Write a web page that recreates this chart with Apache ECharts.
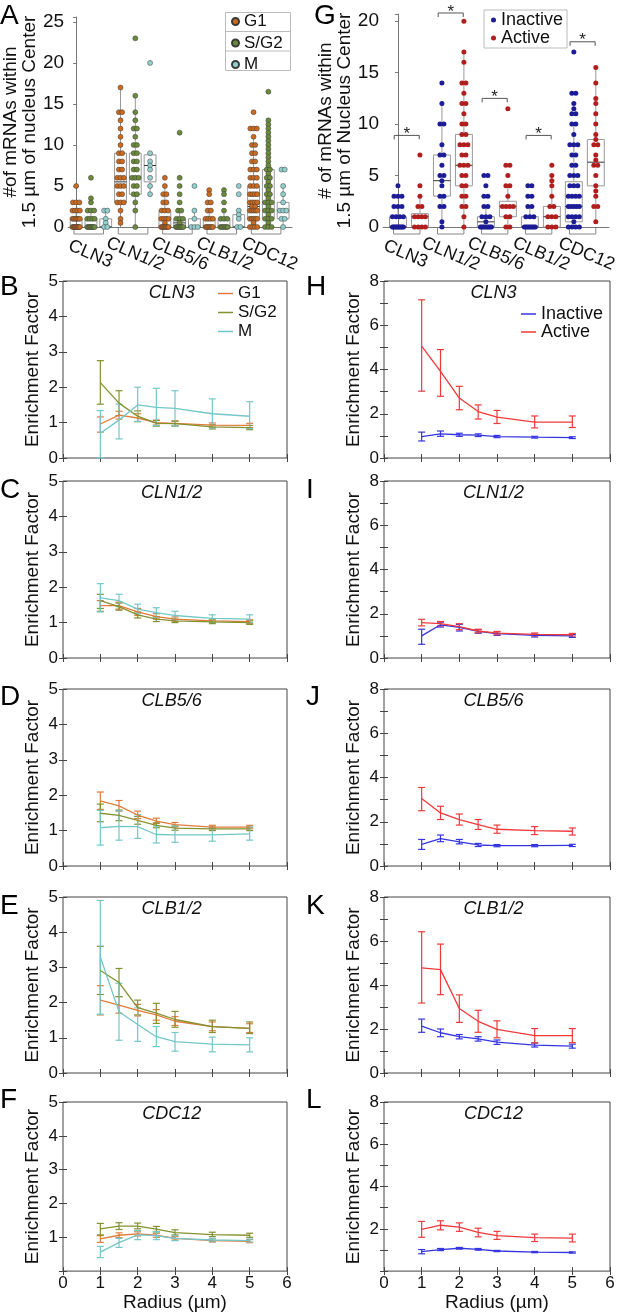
<!DOCTYPE html>
<html><head><meta charset="utf-8">
<script src="https://cdn.jsdelivr.net/npm/echarts@6/dist/echarts.min.js"></script>
<style>html,body{margin:0;padding:0;background:#fff}#c{width:633px;height:1313px}</style>
</head><body><div id="c"></div>
<script>
// ---------------- DATA ----------------
const genes = ['CLN3','CLN1/2','CLB5/6','CLB1/2','CDC12'];
const phases = ['G1','S/G2','M'];
const states = ['Inactive','Active'];
const radius = [1,1.5,2,2.5,3,4,5];

// Panel A dots (mRNA counts) per gene / phase
const a_CLN3_G1   = [5,3,3,3,2,2,2,2,1,1,1,1,1,1,0,0,0,0,0,0,0,0,0,0];
const a_CLN3_SG2  = [6,3.5,3,2,2,2,1,1,1,1,0,0,0,0,0,0,0,0];
const a_CLN3_M    = [2,2,1,0.5,0,0];
const a_CLN12_G1  = [17,14,14,13,12,11,10,9,9,8,8,7,7,6,6,6,5,5,5,4,4,3,3,3,2,1,0.5];
const a_CLN12_SG2 = [23,16,14,13,12,12,11,10,10,9,9,8,8,7,7,6,6,6,5,5,4,4,3,2,0];
const a_CLN12_M   = [20,9,8,7.5,7,6,5,4];
const a_CLB56_G1  = [6,5,4,4,3,3,2,2,2,1,1,1,1,0.5,0,0,0,0,0,0,0,0];
const a_CLB56_SG2 = [11.5,6,5,4,3,2,2,1,1,1,0.5,0,0,0,0,0,0,0];
const a_CLB56_M   = [5,2,1,0,0,0];
const a_CLB12_G1  = [4.5,4,3,3,2,2,1,1,1,1,0,0,0,0,0,0,0];
const a_CLB12_SG2 = [4.5,4,3,2,1,1,1,0,0,0,0,0,0];
const a_CLB12_M   = [5,4,2,1.5,1,0,0];
const a_CDC12_G1  = [14,12,12,12,11,10,10,9,9,8,8,7,7,7,6,6,6,5,5,5,4,4,4,4,3,3,3,3,2.5,2.5,2,2,2,2,2,1,1,1,1,1,0.5,0,0,0,0];
const a_CDC12_SG2 = [16.5,13,12.5,12,11.5,11,10.5,10,9.5,9,8.5,8,7.5,7,7,6.5,6,6,5.5,5,5,4.5,4,4,3.5,3,3,3,2.5,2,2,2,1.5,1,1,1,0.5,0,0,0];
const a_CDC12_M   = [7,7,5,4,3,2,2,2,1,1,0];
// Panel A box stats [min, q1, median, q3, max] in gene-major, phase-minor order
const boxA = [[0,0,0,1,2],[0,0,0,1,2],[0,0,0,1,2],
              [0,3,5.5,9,17],[0,4,6,9,16],[4,5.5,7.5,8.8,9],
              [0,0,1,2,5],[0,0,0.5,1,2],[0,0,0,1,2],
              [0,0,0,1,2],[0,0,0,1,2],[0,0,0,1.5,2],
              [0,1,2.5,5,11],[0,1,3,7,13],[0,1,2,3,5]];

// Panel G dots
const g_CLN3_In   = [4,3,3,3,2,2,2,1,1,1,1,0,0,0,0,0,0,0,0,0,0];
const g_CLN3_Act  = [7,4,3,2,2,1,1,1,1,0,0,0,0];
const g_CLN12_In  = [14,12,10,10,8,7,7,6,5,5,4.5,4,3,3,2,2,0.5,0];
const g_CLN12_Act = [20,17,16,14,14,13,12,12,11,10,10,9,9,8,8,8,7,7,6,6,6,5,5,4,4,3,3,2,2,1,0];
const g_CLB56_In  = [5,5,4,3,3,2,2,1,1,1,0.5,0,0,0,0,0,0,0,0];
const g_CLB56_Act = [11.5,6,6,5,4,4,3,2,2,2,2,1,1,0,0];
const g_CLB12_In  = [4,4,3,3,2,2,1,1,1,0,0,0,0,0,0,0,0];
const g_CLB12_Act = [6,5,4.5,4,3,2,2,1,1,1,0,0,0];
const g_CDC12_In  = [17,13,13,12,11.5,11,11,10,10,9,8,8,8,7,7,6,6,5,5,5,4,4,4,3,3,3,3,2,2,2,2,2,1,1,1,1,0.5,0,0,0,0];
const g_CDC12_Act = [15.5,14,12.5,12,11,10,9,8.5,8,8,7,6.5,6,6,5,4,3.5,3,2,2,0.5];
const boxG = [[0,0,0,1,2],[0,0,1,1.3,3],
              [0,3,4.5,7,12],[0,4,6,9,17],
              [0,0,0.5,1,2],[0,1,2,2.5,4],
              [0,0,0,1,2],[0,0,1,2,5],
              [0,0.5,2,4.4,10],[0.5,4,6.3,8.5,15.5]];
const sigLevels = [8.9,20.8,12.5,8.9,18];

// Enrichment factor: [mean, lower, upper] at each radius
const B_G1  = [[0.96,0.73,1.16],[1.21,1.1,1.32],[1.13,1.03,1.25],[1.0,0.93,1.07],[0.98,0.92,1.05],[0.93,0.87,0.99],[0.92,0.86,0.98]];
const B_SG2 = [[2.13,1.52,2.75],[1.55,1.2,1.9],[1.18,1.03,1.33],[0.98,0.9,1.06],[0.97,0.9,1.04],[0.88,0.82,0.94],[0.86,0.8,0.92]];
const B_M   = [[0.7,0,1.34],[1.07,0.54,1.52],[1.5,1.03,2.0],[1.43,0.91,1.97],[1.4,0.91,1.9],[1.25,0.85,1.67],[1.18,0.83,1.59]];
const C_G1  = [[1.48,1.32,1.62],[1.48,1.38,1.58],[1.3,1.2,1.4],[1.17,1.1,1.25],[1.1,1.04,1.16],[1.05,1.0,1.1],[1.03,0.98,1.08]];
const C_SG2 = [[1.62,1.4,1.8],[1.45,1.35,1.55],[1.22,1.13,1.3],[1.1,1.03,1.17],[1.05,1.0,1.1],[1.02,0.97,1.07],[1.0,0.95,1.05]];
const C_M   = [[1.7,1.3,2.1],[1.62,1.45,1.8],[1.38,1.25,1.52],[1.28,1.15,1.42],[1.2,1.08,1.32],[1.12,1.02,1.22],[1.1,1.0,1.22]];
const D_G1  = [[1.84,1.6,2.09],[1.7,1.55,1.85],[1.44,1.34,1.55],[1.27,1.2,1.35],[1.17,1.1,1.23],[1.1,1.05,1.15],[1.1,1.05,1.15]];
const D_SG2 = [[1.49,1.25,1.75],[1.43,1.28,1.58],[1.29,1.18,1.4],[1.15,1.08,1.22],[1.07,1.01,1.13],[1.05,1.0,1.1],[1.05,1.0,1.1]];
const D_M   = [[1.08,0.59,1.57],[1.12,0.73,1.56],[1.11,0.78,1.45],[0.89,0.65,1.13],[0.88,0.67,1.13],[0.88,0.7,1.08],[0.91,0.73,1.1]];
const E_G1  = [[2.07,1.65,2.48],[1.93,1.7,2.17],[1.78,1.62,1.95],[1.65,1.5,1.8],[1.47,1.35,1.6],[1.32,1.2,1.45],[1.27,1.15,1.4]];
const E_SG2 = [[2.91,2.23,3.6],[2.57,2.17,2.97],[1.86,1.65,2.07],[1.7,1.41,1.98],[1.52,1.3,1.75],[1.32,1.15,1.5],[1.27,1.12,1.45]];
const E_M   = [[3.3,1.67,4.9],[1.74,0.93,2.55],[1.38,0.9,1.85],[1.03,0.75,1.32],[0.89,0.62,1.15],[0.82,0.6,1.02],[0.8,0.6,1.0]];
const F_G1  = [[0.95,0.85,1.05],[1.06,0.99,1.13],[1.1,1.04,1.16],[1.06,1.0,1.12],[0.97,0.92,1.02],[0.9,0.86,0.95],[0.88,0.84,0.93]];
const F_SG2 = [[1.25,1.07,1.41],[1.33,1.23,1.43],[1.33,1.25,1.42],[1.24,1.16,1.32],[1.14,1.07,1.22],[1.08,1.02,1.15],[1.06,1.0,1.12]];
const F_M   = [[0.56,0.4,0.73],[0.84,0.7,0.97],[1.07,0.93,1.2],[1.05,0.93,1.17],[0.97,0.9,1.05],[0.92,0.87,0.97],[0.9,0.86,0.95]];
const H_In  = [[0.97,0.77,1.17],[1.09,0.98,1.22],[1.05,0.98,1.12],[1.03,0.97,1.09],[0.97,0.92,1.02],[0.94,0.9,0.98],[0.92,0.88,0.96]];
const H_Act = [[5.06,3.02,7.15],[3.92,2.79,4.9],[2.71,2.18,3.24],[2.1,1.76,2.4],[1.85,1.56,2.15],[1.62,1.36,1.9],[1.62,1.38,1.9]];
const I_In  = [[1.0,0.62,1.3],[1.5,1.4,1.62],[1.38,1.22,1.52],[1.2,1.12,1.28],[1.1,1.02,1.18],[1.02,0.95,1.08],[1.0,0.93,1.06]];
const I_Act = [[1.6,1.45,1.75],[1.55,1.45,1.65],[1.42,1.28,1.55],[1.22,1.14,1.3],[1.12,1.05,1.2],[1.07,1.0,1.13],[1.05,0.99,1.11]];
const J_In  = [[0.98,0.75,1.2],[1.24,1.1,1.4],[1.09,1.0,1.2],[0.95,0.88,1.02],[0.92,0.87,0.97],[0.92,0.87,0.97],[0.93,0.88,0.98]];
const J_Act = [[3.05,2.5,3.55],[2.4,2.1,2.7],[2.1,1.85,2.35],[1.87,1.65,2.1],[1.66,1.48,1.85],[1.6,1.42,1.78],[1.57,1.4,1.72]];
const K_In  = [[2.13,1.85,2.45],[1.83,1.65,2.0],[1.65,1.55,1.75],[1.55,1.45,1.65],[1.4,1.3,1.5],[1.27,1.18,1.36],[1.22,1.13,1.31]];
const K_Act = [[4.78,3.18,6.42],[4.7,3.56,5.86],[2.93,2.3,3.55],[2.35,1.85,2.85],[1.98,1.6,2.37],[1.7,1.37,2.02],[1.7,1.38,2.02]];
const L_In  = [[0.92,0.82,1.02],[1.02,0.97,1.07],[1.08,1.04,1.12],[1.03,0.99,1.07],[0.95,0.92,0.98],[0.9,0.87,0.93],[0.88,0.85,0.91]];
const L_Act = [[1.97,1.6,2.35],[2.17,1.95,2.38],[2.08,1.88,2.28],[1.83,1.62,2.03],[1.68,1.5,1.88],[1.58,1.4,1.75],[1.56,1.38,1.75]];

// ---------------- STYLE / LAYOUT ----------------
const FF = '"Liberation Sans", Arial, Helvetica, sans-serif';
const dotColA = {'G1':'#cc6a1e','S/G2':'#6b8a3a','M':'#92d0d0'};
const dotColG = {'Inactive':'#1c1c96','Active':'#b01e1e'};
const lineColL = {'G1':'#e07b39','S/G2':'#83912f','M':'#73c7c9'};
const lineColR = {'Inactive':'#3535e0','Active':'#f03a3a'};

const grid=[], xAxis=[], yAxis=[], series=[], legend=[], graphic=[];

function swarm(values, slot, step, maxSpread){
  const counts={}; values.forEach(v=>counts[v]=(counts[v]||0)+1);
  const seen={};
  return values.map(v=>{
    const n=counts[v]; const k = seen[v] = (seen[v]===undefined?0:seen[v]+1);
    const s = n>1 ? Math.min(step, maxSpread/(n-1)) : 0;
    return [slot + (k-(n-1)/2)*s, v];
  });
}
function boxRender(bw, stroke, med){
  return function(params, api){
    const x=api.value(0);
    const pMin=api.coord([x,api.value(1)]), pQ1=api.coord([x,api.value(2)]), pMd=api.coord([x,api.value(3)]),
          pQ3=api.coord([x,api.value(4)]), pMax=api.coord([x,api.value(5)]);
    const w=api.size([bw,0])[0];
    const st={stroke:stroke, lineWidth:1, fill:null};
    const ch=[];
    if(pMin[1]-pQ1[1]>0.5) ch.push({type:'line',shape:{x1:pMin[0],y1:pMin[1],x2:pQ1[0],y2:pQ1[1]},style:st});
    if(pQ3[1]-pMax[1]>0.5) ch.push({type:'line',shape:{x1:pQ3[0],y1:pQ3[1],x2:pMax[0],y2:pMax[1]},style:st});
    ch.push({type:'rect',shape:{x:pQ1[0]-w/2,y:pQ3[1],width:w,height:Math.max(pQ1[1]-pQ3[1],0.5)},style:{stroke:stroke,lineWidth:1,fill:'rgba(255,255,255,0)'}});
    ch.push({type:'line',shape:{x1:pMd[0]-w/2,y1:pMd[1],x2:pMd[0]+w/2,y2:pMd[1]},style:{stroke:med,lineWidth:1}});
    return {type:'group',children:ch};
  };
}
function errRender(color){
  return function(params, api){
    const x=api.value(0);
    const a=api.coord([x,api.value(2)]), b=api.coord([x,api.value(1)]);
    const hw=3.5, st={stroke:color,lineWidth:1.2};
    return {type:'group',children:[
      {type:'line',shape:{x1:a[0],y1:a[1],x2:b[0],y2:b[1]},style:st},
      {type:'line',shape:{x1:a[0]-hw,y1:a[1],x2:a[0]+hw,y2:a[1]},style:st},
      {type:'line',shape:{x1:b[0]-hw,y1:b[1],x2:b[0]+hw,y2:b[1]},style:st}]};
  };
}
function bracketBelow(hwSlots){
  return function(params, api){
    const c=api.coord([api.value(0),0]); const hw=api.size([hwSlots,0])[0];
    const y=c[1]+7;
    return {type:'polyline',shape:{points:[[c[0]-hw,c[1]+1],[c[0]-hw,y],[c[0]+hw,y],[c[0]+hw,c[1]+1]]},style:{stroke:'#888',fill:null,lineWidth:1}};
  };
}

// ---------- Top panel builder ----------
function topPanel(o){
  const g=grid.length; grid.push({left:o.left,top:o.top,width:o.w,height:o.h});
  const xv=xAxis.length;
  xAxis.push({gridIndex:g,type:'value',min:o.xmin,max:o.xmax,show:false});
  xAxis.push({gridIndex:g,type:'category',data:genes,position:'bottom',boundaryGap:true,
    axisLine:{show:true,lineStyle:{color:'#777',width:1}},axisTick:{show:false},splitLine:{show:false},
    axisLabel:{interval:0,rotate:-23,align:'center',verticalAlign:'middle',margin:27,fontSize:18,color:'#111',fontFamily:FF}});
  const yv=yAxis.length;
  yAxis.push({gridIndex:g,type:'value',min:0,max:o.ymax,interval:5,
    axisLine:{show:true,lineStyle:{color:'#777'}},axisTick:{show:true,length:3,lineStyle:{color:'#777'}},splitLine:{show:false},
    axisLabel:{fontSize:19,color:'#111',fontFamily:FF,margin:4,formatter:v=>(Math.abs(v%5)<1e-9?String(v):'')},
    name:o.yname,nameLocation:'middle',nameGap:25,nameTextStyle:{fontSize:19,lineHeight:19,color:'#111',fontFamily:FF}});
  return {xv,yv};
}

// Panel A
const A = topPanel({left:67,top:17,w:225,h:210,xmin:-0.55,xmax:14.6,ymax:25.6,yname:'#of mRNAs within\n1.5 µm of nucleus Center'});
series.push({type:'custom',xAxisIndex:A.xv,yAxisIndex:A.yv,data:boxA.map((b,i)=>[i].concat(b)),encode:{x:0,y:[1,2,3,4,5]},
  renderItem:boxRender(0.8,'#999','#333'),silent:true,animation:false,z:1});
const aDots=[[a_CLN3_G1,a_CLN3_SG2,a_CLN3_M],[a_CLN12_G1,a_CLN12_SG2,a_CLN12_M],[a_CLB56_G1,a_CLB56_SG2,a_CLB56_M],
             [a_CLB12_G1,a_CLB12_SG2,a_CLB12_M],[a_CDC12_G1,a_CDC12_SG2,a_CDC12_M]];
phases.forEach((ph,pi)=>{
  let data=[]; aDots.forEach((gd,gi)=>{ data=data.concat(swarm(gd[pi],gi*3+pi,0.22,0.5)); });
  series.push({type:'scatter',name:ph,xAxisIndex:A.xv,yAxisIndex:A.yv,data,symbol:'circle',symbolSize:5,
    itemStyle:{color:dotColA[ph],borderColor:'#3a3a3a',borderWidth:0.5,opacity:1},silent:true,animation:false,z:3});
});
series.push({type:'custom',xAxisIndex:A.xv,yAxisIndex:A.yv,data:genes.map((_,i)=>[i*3+0.85,0]),encode:{x:0,y:1},
  renderItem:bracketBelow(1.0),clip:false,silent:true,animation:false,z:2});

// Panel G
const G = topPanel({left:383,top:14,w:226,h:213,xmin:-0.68,xmax:9.6,ymax:20.7,yname:'# of mRNAs within\n1.5 µm of Nucleus Center'});
series.push({type:'custom',xAxisIndex:G.xv,yAxisIndex:G.yv,data:boxG.map((b,i)=>[i].concat(b)),encode:{x:0,y:[1,2,3,4,5]},
  renderItem:boxRender(0.77,'#999','#333'),silent:true,animation:false,z:1});
const gDots=[[g_CLN3_In,g_CLN3_Act],[g_CLN12_In,g_CLN12_Act],[g_CLB56_In,g_CLB56_Act],[g_CLB12_In,g_CLB12_Act],[g_CDC12_In,g_CDC12_Act]];
states.forEach((st,si)=>{
  let data=[]; gDots.forEach((gd,gi)=>{ data=data.concat(swarm(gd[si],gi*2+si,0.18,0.5)); });
  series.push({type:'scatter',name:st,xAxisIndex:G.xv,yAxisIndex:G.yv,data,symbol:'circle',symbolSize:5,
    itemStyle:{color:dotColG[st],opacity:1},silent:true,animation:false,z:3});
});
series.push({type:'custom',xAxisIndex:G.xv,yAxisIndex:G.yv,data:genes.map((_,i)=>[i*2+0.4,0]),encode:{x:0,y:1},
  renderItem:bracketBelow(0.6),clip:false,silent:true,animation:false,z:2});
series.push({type:'custom',xAxisIndex:G.xv,yAxisIndex:G.yv,data:sigLevels.map((v,i)=>[i*2+0.4,v]),encode:{x:0,y:1},
  renderItem:function(params,api){
    const c=api.coord([api.value(0),api.value(1)]); const hw=api.size([0.57,0])[0];
    return {type:'group',children:[
      {type:'polyline',shape:{points:[[c[0]-hw,c[1]+4],[c[0]-hw,c[1]],[c[0]+hw,c[1]],[c[0]+hw,c[1]+4]]},style:{stroke:'#555',fill:null,lineWidth:1}},
      {type:'text',x:c[0],y:c[1]-1,style:{text:'*',font:'17px '+FF,fill:'#222',align:'center',verticalAlign:'middle'}}]};
  },clip:false,silent:true,animation:false,z:2});

// legends top
graphic.push({type:'rect',shape:{x:225.5,y:12.5,width:65,height:58},style:{stroke:'#bbb',fill:null,lineWidth:1}});
graphic.push({type:'line',shape:{x1:225.5,y1:31.5,x2:290.5,y2:31.5},style:{stroke:'#bbb',lineWidth:1}});
graphic.push({type:'line',shape:{x1:225.5,y1:51,x2:290.5,y2:51},style:{stroke:'#bbb',lineWidth:1}});
legend.push({data:phases,orient:'vertical',left:231,top:13,padding:0,itemGap:4.5,itemWidth:7,itemHeight:7,selectedMode:false,
  textStyle:{fontSize:17,lineHeight:15,color:'#111',fontFamily:FF}});
legend.push({data:states,orient:'vertical',left:484,top:10,padding:[1,4,1,7],itemGap:0,itemWidth:5,itemHeight:5,selectedMode:false,
  borderColor:'#bbb',borderWidth:1,textStyle:{fontSize:18,lineHeight:16,color:'#111',fontFamily:FF}});

// ---------- line panels ----------
const tops=[281,481,689,897,1102], heights=[177,177,177,176,176];
const leftPanels=[['B','CLN3',B_G1,B_SG2,B_M],['C','CLN1/2',C_G1,C_SG2,C_M],['D','CLB5/6',D_G1,D_SG2,D_M],['E','CLB1/2',E_G1,E_SG2,E_M],['F','CDC12',F_G1,F_SG2,F_M]];
const rightPanels=[['H','CLN3',H_In,H_Act],['I','CLN1/2',I_In,I_Act],['J','CLB5/6',J_In,J_Act],['K','CLB1/2',K_In,K_Act],['L','CDC12',L_In,L_Act]];

function linePanel(o){
  const g=grid.length;
  grid.push({left:o.left,top:o.top,width:o.w,height:o.h,show:true,borderColor:'#444',borderWidth:1,backgroundColor:'rgba(0,0,0,0)'});
  const tick={show:true,inside:true,length:4,lineStyle:{color:'#444',width:1}};
  const xi=xAxis.length;
  xAxis.push({gridIndex:g,type:'value',min:0,max:6,interval:1,position:'bottom',axisLine:{show:false},axisTick:tick,splitLine:{show:false},
    axisLabel:{show:o.showX,fontSize:17,color:'#111',fontFamily:FF,margin:4},
    name:o.showX?'Radius (µm)':'',nameLocation:'middle',nameGap:19,nameTextStyle:{fontSize:19,color:'#111',fontFamily:FF}});
  xAxis.push({gridIndex:g,type:'value',min:0,max:6,interval:1,position:'top',axisLine:{show:false},axisTick:tick,axisLabel:{show:false},splitLine:{show:false}});
  const yi=yAxis.length;
  yAxis.push({gridIndex:g,type:'value',min:0,max:o.ymax,interval:1,position:'left',axisLine:{show:false},axisTick:tick,splitLine:{show:false},
    axisLabel:{fontSize:17,color:'#111',fontFamily:FF,margin:5,formatter:v=>((v%o.lab===0)&&!(o.showX&&v===0)?String(v):'')},
    name:'Enrichment Factor',nameLocation:'middle',nameGap:21,nameTextStyle:{fontSize:19,color:'#111',fontFamily:FF}});
  yAxis.push({gridIndex:g,type:'value',min:0,max:o.ymax,interval:1,position:'right',axisLine:{show:false},axisTick:tick,axisLabel:{show:false},splitLine:{show:false}});
  o.groups.forEach(gr=>{
    series.push({type:'line',name:o.letter+'-'+gr.name,xAxisIndex:xi,yAxisIndex:yi,data:radius.map((r,i)=>[r,gr.d[i][0]]),
      showSymbol:false,symbol:'none',lineStyle:{color:gr.color,width:1.3},itemStyle:{color:gr.color},silent:true,animation:false,z:3});
    series.push({type:'custom',xAxisIndex:xi,yAxisIndex:yi,data:radius.map((r,i)=>[r,gr.d[i][1],gr.d[i][2]]),encode:{x:0,y:[1,2]},
      renderItem:errRender(gr.color),silent:true,animation:false,z:3});
  });
  graphic.push({type:'text',x:o.left+o.w*0.485,y:o.top+12,style:{text:o.title,font:'italic 18px '+FF,fill:'#111',align:'center',verticalAlign:'middle'}});
}
leftPanels.forEach((p,i)=>{
  linePanel({letter:p[0],title:p[1],left:63,top:tops[i],w:224,h:heights[i],ymax:5,lab:1,showX:i===4,
    groups:[{name:'G1',d:p[2],color:lineColL['G1']},{name:'S/G2',d:p[3],color:lineColL['S/G2']},{name:'M',d:p[4],color:lineColL['M']}]});
});
rightPanels.forEach((p,i)=>{
  linePanel({letter:p[0],title:p[1],left:384,top:tops[i],w:226,h:heights[i],ymax:8,lab:2,showX:i===4,
    groups:[{name:'Inactive',d:p[2],color:lineColR['Inactive']},{name:'Active',d:p[3],color:lineColR['Active']}]});
});
legend.push({data:['B-G1','B-S/G2','B-M'],orient:'vertical',left:218,top:285,padding:0,itemGap:2,itemWidth:15,itemHeight:1.5,icon:'rect',
  selectedMode:false,formatter:n=>n.split('-')[1],textStyle:{fontSize:17,lineHeight:16,color:'#111',fontFamily:FF}});
legend.push({data:['H-Inactive','H-Active'],orient:'vertical',left:521,top:305,padding:0,itemGap:0,itemWidth:15,itemHeight:1.5,icon:'rect',
  selectedMode:false,formatter:n=>n.split('-')[1],textStyle:{fontSize:18,lineHeight:14,color:'#111',fontFamily:FF}});

// panel letters
[['A',0,16],['G',314,16],['B',0,287],['C',0,490],['D',0,697],['E',0,906],['F',0,1100],
 ['H',306,287],['I',306,490],['J',306,697],['K',306,906],['L',306,1100]].forEach(l=>{
  graphic.push({type:'text',x:l[1],y:l[2],style:{text:l[0],font:'28px '+FF,fill:'#000',verticalAlign:'middle'}});
});

const chart=echarts.init(document.getElementById('c'),null,{renderer:'canvas'});
chart.setOption({animation:false,backgroundColor:'#fff',grid,xAxis,yAxis,series,legend,graphic});
</script></body></html>
